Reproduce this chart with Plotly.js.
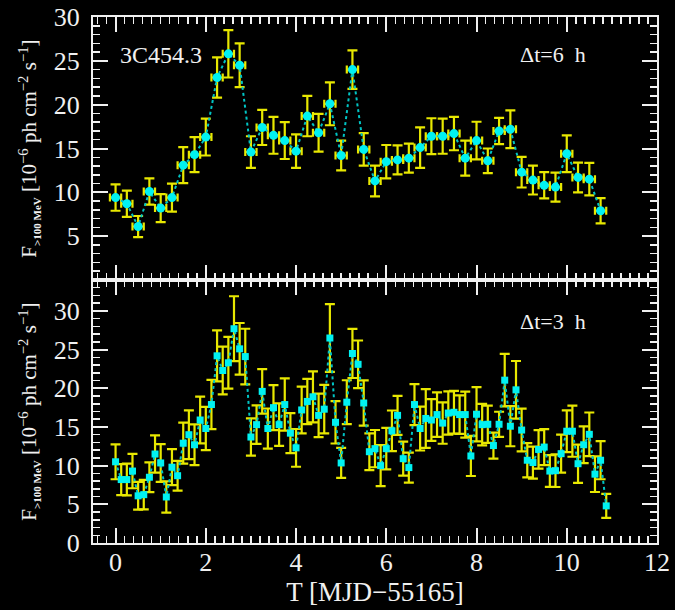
<!DOCTYPE html>
<html>
<head>
<meta charset="utf-8">
<script src="https://cdn.plot.ly/plotly-3.0.1.min.js"></script>
<style>html,body{margin:0;padding:0;background:#000;}#chart{width:675px;height:610px;}</style>
</head>
<body>
<div id="chart"></div>
<script>
// Top panel: 6 h bins
const topT = [0.0,0.25,0.5,0.75,1.0,1.25,1.5,1.75,2.0,2.25,2.5,2.75,3.0,3.25,3.5,3.75,
  4.0,4.25,4.5,4.75,5.0,5.25,5.5,5.75,6.0,6.25,6.5,6.75,7.0,7.25,7.5,7.75,8.0,
  8.25,8.5,8.75,9.0,9.25,9.5,9.75,10.0,10.25,10.5,10.75];
const topF = [9.4,8.7,6.1,10.1,8.2,9.4,13.1,14.3,16.3,23.1,25.8,24.5,14.6,17.4,16.5,15.9,
  14.7,18.7,16.8,20.1,14.2,24.0,14.9,11.3,13.5,13.7,13.9,15.1,16.4,16.4,16.7,13.9,15.9,
  13.6,17.0,17.2,12.3,11.4,10.8,10.6,14.4,11.7,11.5,7.9];
const topErr = [1.5,1.5,1.2,1.5,1.6,1.6,2.05,2.0,2.1,2.3,2.7,2.5,1.8,2.0,2.1,2.1,
  1.9,2.3,2.15,2.45,1.7,2.2,1.85,1.75,1.9,1.65,1.65,2.3,2.05,2.0,1.9,2.0,2.15,
  1.4,1.5,2.15,1.75,1.65,1.5,1.65,2.1,1.7,1.85,1.45];
const topHalfBin = 0.125;

// Bottom panel: 3 h bins
const botT = [0.0,0.125,0.25,0.375,0.5,0.625,0.75,0.875,1.0,1.125,1.25,1.375,1.5,1.625,1.75,1.875,
  2.0,2.125,2.25,2.375,2.5,2.625,2.75,2.875,3.0,3.125,3.25,3.375,3.5,3.625,3.75,3.875,
  4.0,4.125,4.25,4.375,4.5,4.625,4.75,4.875,5.0,5.125,5.25,5.375,5.5,5.625,5.75,5.875,
  6.0,6.125,6.25,6.375,6.5,6.625,6.75,6.875,7.0,7.125,7.25,7.375,7.5,7.625,7.75,7.875,
  8.0,8.125,8.25,8.375,8.5,8.625,8.75,8.875,9.0,9.125,9.25,9.375,9.5,9.625,9.75,9.875,
  10.0,10.125,10.25,10.375,10.5,10.625,10.75,10.875];
const botF = [10.5,8.2,8.2,9.3,6.1,6.25,8.5,11.5,10.35,5.95,9.8,8.7,12.9,14.0,12.7,15.9,
  14.8,17.9,24.2,22.3,23.3,27.7,25.1,24.1,13.7,15.3,19.6,14.8,17.5,15.3,17.9,14.2,
  12.3,17.2,18.3,18.9,16.5,17.3,26.5,15.6,10.35,18.2,24.5,23.1,18.1,11.8,12.2,10.0,
  12.2,14.5,16.5,10.9,9.75,17.9,14.8,16.1,15.9,16.6,15.5,16.8,16.9,16.6,16.6,11.25,
  16.65,15.3,15.35,12.6,15.35,21.05,15.1,19.8,14.6,10.7,10.4,12.1,12.4,9.3,9.35,11.55,
  14.45,14.45,10.25,12.7,14.05,8.9,10.7,4.8];
const botErr = [2.26,2.0,2.05,2.22,1.79,1.9,1.92,2.41,2.44,2.03,2.33,1.92,2.65,3.15,2.63,3.02,
  2.8,3.19,3.3,3.08,3.34,4.2,3.34,3.6,2.41,2.48,2.87,2.59,2.91,2.74,3.38,2.59,
  2.44,3.02,2.93,3.3,2.8,3.13,4.37,2.74,1.94,2.84,3.17,3.08,2.93,2.37,2.41,2.65,
  2.69,2.63,2.52,2.2,1.94,2.65,2.84,3.8,2.69,2.87,2.67,2.8,2.76,2.48,2.97,2.59,
  3.5,2.69,2.41,1.68,1.62,3.4,2.59,3.73,2.76,2.22,2.07,2.48,2.33,2.05,2.11,2.46,
  2.69,3.3,2.48,2.37,2.82,2.31,2.46,1.55];
const botHalfBin = 0.0625;

const xTickVals = [0,2,4,6,8,10,12];
const topYTicks = [5,10,15,20,25,30];
const botYTicks = [0,5,10,15,20,25,30];

const CYAN = '#00f2f2', LINE = '#00c4c4', YEL = '#e8e800', WHITE = '#f0f0f0';
const FONT = 'Liberation Serif, Times New Roman, serif';

const traces = [
  { x: topT, y: topF, xaxis: 'x2', yaxis: 'y2', type: 'scatter', mode: 'lines+markers',
    line: {color: LINE, width: 2, dash: 'dot'},
    marker: {symbol: 'circle', size: 9, color: CYAN},
    error_y: {type: 'data', array: topErr, color: YEL, thickness: 2.2, width: 5},
    error_x: {type: 'constant', value: topHalfBin, color: YEL, thickness: 2.2, width: 4},
    hoverinfo: 'skip', showlegend: false },
  { x: botT, y: botF, xaxis: 'x', yaxis: 'y', type: 'scatter', mode: 'lines+markers',
    line: {color: LINE, width: 2, dash: 'dot'},
    marker: {symbol: 'square', size: 7, color: CYAN},
    error_y: {type: 'data', array: botErr, color: YEL, thickness: 2.2, width: 5},
    error_x: {type: 'constant', value: botHalfBin, color: YEL, thickness: 2, width: 0},
    hoverinfo: 'skip', showlegend: false }
];

const common = {
  showline: true, linecolor: WHITE, linewidth: 2, mirror: 'allticks',
  ticks: 'inside', tickcolor: WHITE, tickwidth: 2, showgrid: false, zeroline: false,
  tickfont: {family: FONT, size: 26, color: WHITE}
};

const layout = {
  width: 675, height: 610,
  paper_bgcolor: '#000', plot_bgcolor: '#000',
  margin: {l: 93, r: 18, t: 17, b: 67},
  xaxis: Object.assign({}, common, {
    range: [-0.5, 12], tickvals: xTickVals, ticklen: 15, anchor: 'y',
    ticklabelstandoff: -5,
    minor: {dtick: 0.2, tick0: 0, ticklen: 7, tickcolor: WHITE, tickwidth: 1.5, ticks: 'inside'},
    title: {text: 'T [MJD\u221255165]', font: {family: FONT, size: 27, color: WHITE}, standoff: 2}
  }),
  xaxis2: Object.assign({}, common, {
    range: [-0.5, 12], tickvals: xTickVals, ticklen: 15, anchor: 'y2', matches: 'x',
    showticklabels: false,
    minor: {dtick: 0.2, tick0: 0, ticklen: 7, tickcolor: WHITE, tickwidth: 1.5, ticks: 'inside'}
  }),
  yaxis: Object.assign({}, common, {
    domain: [0, 0.5], range: [0, 34], tickvals: botYTicks, ticklen: 15, anchor: 'x',
    ticklabelstandoff: 6,
    minor: {dtick: 1, tick0: 0, ticklen: 7, tickcolor: WHITE, tickwidth: 1.5, ticks: 'inside'}
  }),
  yaxis2: Object.assign({}, common, {
    domain: [0.5, 1], range: [0, 30], tickvals: topYTicks, ticklen: 15, anchor: 'x2',
    ticklabelstandoff: 6,
    minor: {dtick: 1, tick0: 0, ticklen: 7, tickcolor: WHITE, tickwidth: 1.5, ticks: 'inside'}
  }),
  annotations: [
    {text: '3C454.3', xref: 'x2', yref: 'y2', x: 1.0, y: 25.7, showarrow: false,
     font: {family: FONT, size: 24, color: WHITE}},
    {text: '\u0394t=6  h', xref: 'x2', yref: 'y2', x: 9.7, y: 25.7, showarrow: false,
     font: {family: FONT, size: 22, color: WHITE}},
    {text: '\u0394t=3  h', xref: 'x', yref: 'y', x: 9.7, y: 28.6, showarrow: false,
     font: {family: FONT, size: 22, color: WHITE}},
    {text: 'F<sub><b><span style="font-size:11px">&gt;100 MeV</span></b></sub> [10<sup>\u22126</sup> ph cm<sup>\u22122</sup> s<sup>\u22121</sup>]',
     xref: 'paper', yref: 'paper', x: -0.115, y: 0.75, xanchor: 'center', yanchor: 'middle',
     textangle: -90, showarrow: false, font: {family: FONT, size: 21, color: WHITE}},
    {text: 'F<sub><b><span style="font-size:11px">&gt;100 MeV</span></b></sub> [10<sup>\u22126</sup> ph cm<sup>\u22122</sup> s<sup>\u22121</sup>]',
     xref: 'paper', yref: 'paper', x: -0.115, y: 0.25, xanchor: 'center', yanchor: 'middle',
     textangle: -90, showarrow: false, font: {family: FONT, size: 21, color: WHITE}}
  ]
};

Plotly.newPlot('chart', traces, layout, {displayModeBar: false, staticPlot: true});
</script>
</body>
</html>
